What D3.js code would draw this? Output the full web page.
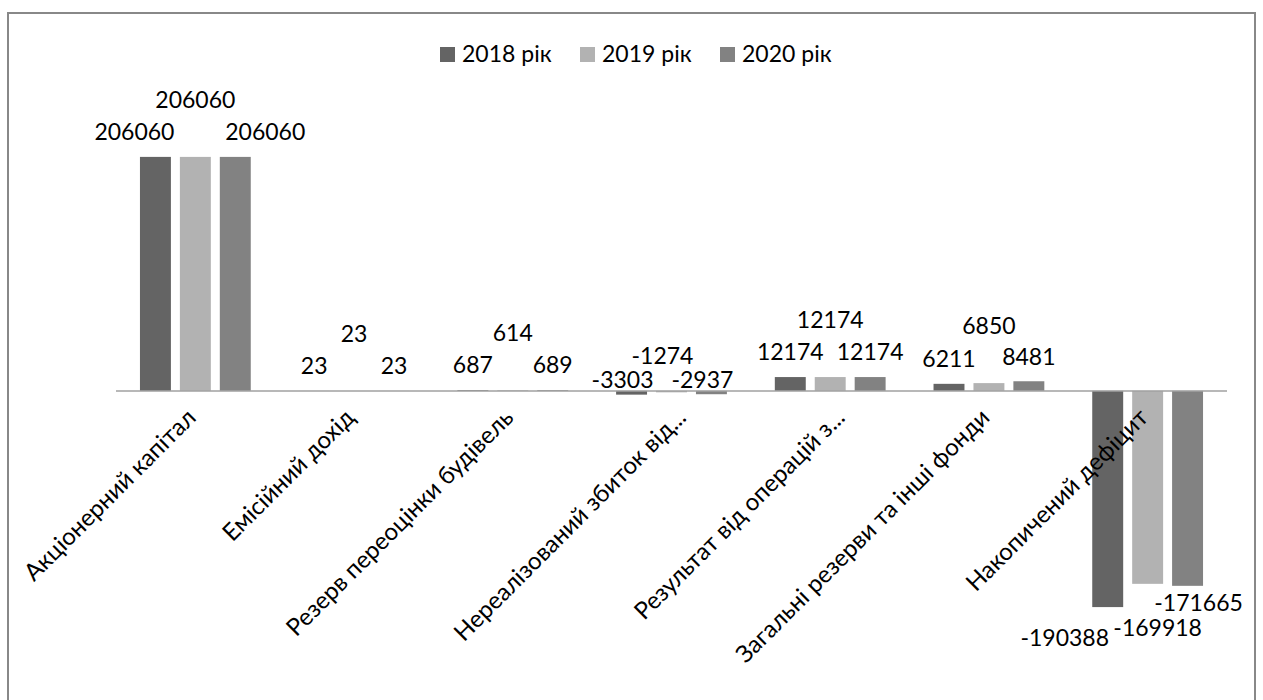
<!DOCTYPE html>
<html>
<head>
<meta charset="utf-8">
<script src="https://cdn.jsdelivr.net/npm/d3@7"></script>
<style>
  body { margin: 0; background: #fff; }
  text { font-family: Lato, "Open Sans", sans-serif; fill: #000; }
</style>
</head>
<body>
<div class="chart"></div>
<script>
// categories and series
var categories = [
	"Акціонерний капітал",
	"Емісійний дохід",
	"Резерв переоцінки будівель",
	"Нереалізований збиток від...",
	"Результат від операцій з...",
	"Загальні резерви та інші фонди",
	"Накопичений дефіцит"
];
var seriesNames = ["2018 рік", "2019 рік", "2020 рік"];
var values2018 = [206060, 23, 687, -3303, 12174, 6211, -190388];
var values2019 = [206060, 23, 614, -1274, 12174, 6850, -169918];
var values2020 = [206060, 23, 689, -2937, 12174, 8481, -171665];
var colors = ["#646464", "#b2b2b2", "#828282"];

var W = 1263, H = 700;
var plot = { left: 116, right: 1227, top: 107, bottom: 618 };

var svg = d3.select(".chart").append("svg")
	.attr("width", W)
	.attr("height", H);

// outer frame
svg.append("rect")
	.attr("x", 8).attr("y", 13)
	.attr("width", 1247).attr("height", 720)
	.attr("fill", "none")
	.attr("stroke", "#888")
	.attr("stroke-width", 2);

var series = [values2018, values2019, values2020];
var rows = [];
categories.forEach(function ( c, ci ) {
	series.forEach(function ( vals, si ) {
		rows.push({ cat: c, ci: ci, si: si, value: vals[ci] });
	});
});

var x0 = d3.scaleBand()
	.domain(categories)
	.range([plot.left, plot.right])
	.padding(0);

var x1 = d3.scaleBand()
	.domain(seriesNames)
	.range([0, x0.bandwidth()])
	.paddingInner(0.225)
	.paddingOuter(0.6);

var y = d3.scaleLinear()
	.domain([-200000, 250000])
	.range([plot.bottom, plot.top]);

// bars
svg.selectAll("rect.bar")
	.data(rows)
	.enter()
	.append("rect")
	.attr("class", "bar")
	.attr("x", function ( d ) { return x0(d.cat) + x1(seriesNames[d.si]); })
	.attr("width", x1.bandwidth())
	.attr("y", function ( d ) { return y(Math.max(0, d.value)); })
	.attr("height", function ( d ) { return Math.abs(y(d.value) - y(0)); })
	.attr("fill", function ( d ) { return colors[d.si]; });

// zero line
svg.append("line")
	.attr("x1", plot.left).attr("x2", plot.right)
	.attr("y1", y(0)).attr("y2", y(0))
	.attr("stroke", "#a0a0a0")
	.attr("stroke-width", 1.5);

// where Excel pushed the labels apart so they would not overlap
var spreadX = { 0: [-21, 0, 30], 6: [-43, 10, 11] };
var bigNegY = [31, 44, 17];

function labelPos( d ) {
	var cx = x0(d.cat) + x1(seriesNames[d.si]) + x1.bandwidth() / 2;
	var end = y(d.value), ly;
	if ( d.value >= 0 ) {
		ly = end - 25 - (d.si === 1 ? 32 : 0);
	} else if ( end - y(0) < 20 ) {
		ly = y(0) - 11 - (d.si === 1 ? 24 : 0);
		cx -= 9;
	} else {
		ly = end + bigNegY[d.si];
	}
	if ( spreadX[d.ci] ) cx += spreadX[d.ci][d.si];
	return [cx, ly];
}

svg.selectAll("text.value")
	.data(rows)
	.enter()
	.append("text")
	.attr("class", "value")
	.attr("text-anchor", "middle")
	.attr("font-size", 23)
	.attr("x", function ( d ) { return labelPos(d)[0]; })
	.attr("y", function ( d ) { return labelPos(d)[1]; })
	.attr("dy", "0.36em")
	.text(function ( d ) { return d.value; });

// category labels, rotated -45 (truncated ones sit a bit further right)
svg.selectAll("text.cat")
	.data(categories)
	.enter()
	.append("text")
	.attr("class", "cat")
	.attr("text-anchor", "end")
	.attr("font-size", 24)
	.attr("transform", function ( d ) {
		var shift = /\.\.\.$/.test(d) ? 16 : 2;
		return "translate(" + (x0(d) + x0.bandwidth() / 2 + shift) + "," + 419 + ")rotate(-45)";
	})
	.text(function ( d ) { return d; });

// legend
var legend = svg.append("g").attr("transform", "translate(440,47)");
var item = legend.selectAll("g")
	.data(seriesNames)
	.enter()
	.append("g")
	.attr("transform", function ( d, i ) { return "translate(" + (i * 140) + ",0)"; });
item.append("rect")
	.attr("width", 15).attr("height", 15)
	.attr("fill", function ( d, i ) { return colors[i]; });
item.append("text")
	.attr("x", 22).attr("y", 15)
	.attr("font-size", 23)
	.text(function ( d ) { return d; });
</script>
</body>
</html>
